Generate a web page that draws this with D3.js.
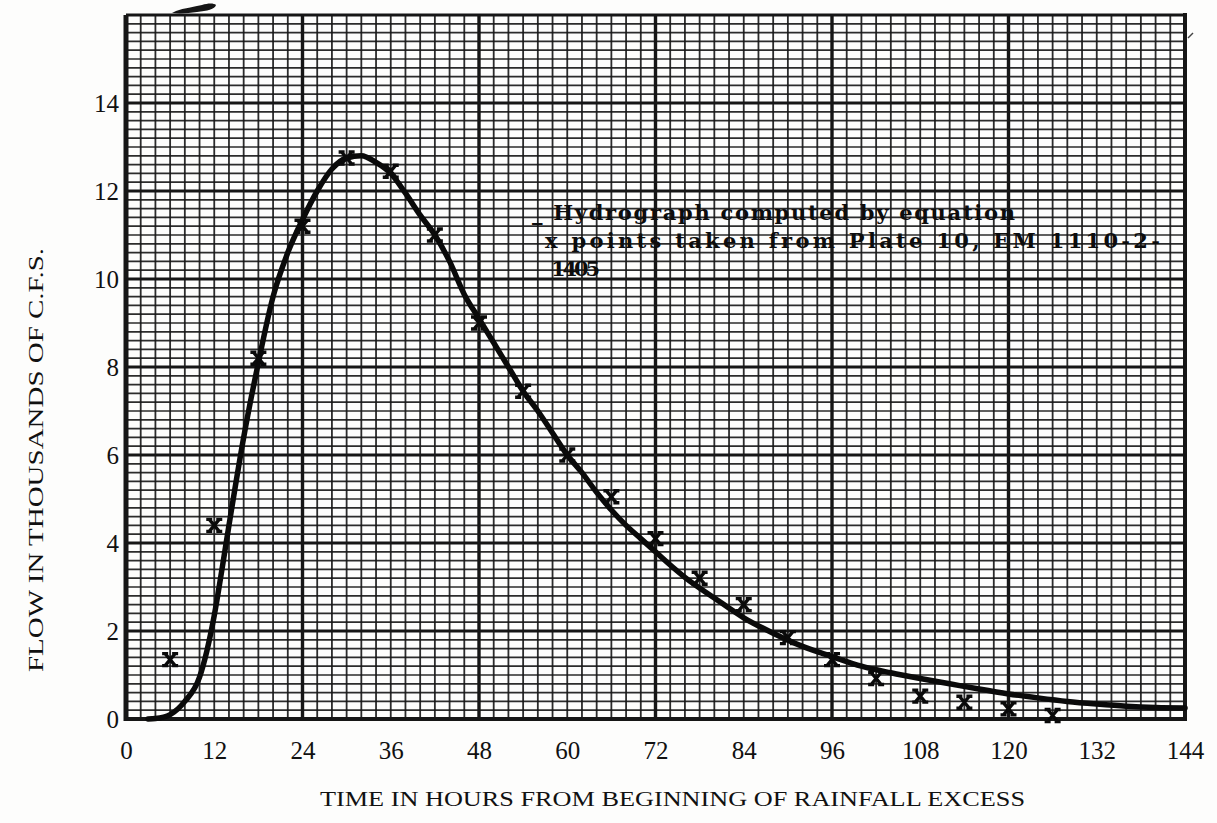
<!DOCTYPE html>
<html>
<head>
<meta charset="utf-8">
<script src="https://cdn.jsdelivr.net/npm/d3@7"></script>
<style>
  html, body { margin: 0; padding: 0; background: #fdfdfc; }
  svg { display: block; }
</style>
</head>
<body>
<svg id="chart" width="1217" height="823"></svg>
<script>
// ---- data ----
const curveHours = [3, 4, 6, 8, 10, 11, 12, 13, 14, 16, 18, 20, 22, 24, 26, 28, 30, 32, 34, 36, 38, 40, 42, 44, 46, 48, 50, 52, 54, 56, 58, 60, 62, 64, 66, 68, 70, 72, 74, 76, 80, 84, 88, 92, 96, 100, 104, 108, 112, 116, 120, 124, 128, 132, 136, 140, 144];
const curveFlow  = [0, 0.01, 0.1, 0.4, 0.95, 1.55, 2.35, 3.35, 4.4, 6.4, 8.1, 9.6, 10.6, 11.35, 12.0, 12.5, 12.75, 12.8, 12.65, 12.4, 11.95, 11.45, 11.0, 10.4, 9.65, 9.1, 8.55, 8.0, 7.45, 7.0, 6.5, 6.0, 5.6, 5.15, 4.75, 4.4, 4.1, 3.8, 3.5, 3.22, 2.75, 2.3, 1.95, 1.65, 1.42, 1.2, 1.05, 0.92, 0.8, 0.68, 0.57, 0.48, 0.4, 0.34, 0.29, 0.26, 0.25];
const pointHours = [6, 12, 18, 24, 30, 36, 42, 48, 54, 60, 66, 72, 78, 84, 90, 96, 102, 108, 114, 120, 126];
const pointFlow  = [1.35, 4.4, 8.2, 11.2, 12.75, 12.45, 11.0, 9.0, 7.45, 6.0, 5.05, 4.1, 3.2, 2.6, 1.85, 1.35, 0.92, 0.52, 0.38, 0.23, 0.08];
const xTickValues = [0, 12, 24, 36, 48, 60, 72, 84, 96, 108, 120, 132, 144];
const yTickValues = [0, 2, 4, 6, 8, 10, 12, 14];
const legendLines = ["_ Hydrograph computed by equation", "x points taken from Plate 10, EM 1110-2-", "1405"];
const xTitle = "TIME IN HOURS FROM BEGINNING OF RAINFALL EXCESS";
const yTitle = "FLOW IN THOUSANDS OF C.F.S.";

// ---- layout ----
const L = 126, R = 1185, T = 15, B = 719;
const svg = d3.select("#chart");
const x = d3.scaleLinear().domain([0, 144]).range([L, R]);
const y = d3.scaleLinear().domain([0, 16]).range([B, T]);
const ink = "#161616";

// graph-paper grid
const grid = svg.append("g");
d3.range(0, 145, 2).forEach(h => {
  const major = h % 24 === 0;
  grid.append("line")
    .attr("x1", x(h)).attr("x2", x(h)).attr("y1", y(16)).attr("y2", y(0))
    .attr("stroke", ink).attr("stroke-width", major ? 3.4 : 1.8).attr("opacity", major ? 1 : 0.9);
});
d3.range(0, 80.5, 1).forEach(i => {
  const v = i * 0.2;
  const major = i % 10 === 0;
  grid.append("line")
    .attr("x1", x(0)).attr("x2", x(144)).attr("y1", y(v)).attr("y2", y(v))
    .attr("stroke", ink).attr("stroke-width", major ? 3 : 1.7).attr("opacity", major ? 1 : 0.9);
});
// heavier frame sides
svg.append("line").attr("x1", x(0)).attr("x2", x(0)).attr("y1", y(16)).attr("y2", y(0) + 2)
  .attr("stroke", ink).attr("stroke-width", 5);
svg.append("line").attr("x1", x(144)).attr("x2", x(144)).attr("y1", y(16) - 2).attr("y2", y(0) + 2)
  .attr("stroke", ink).attr("stroke-width", 4);
svg.append("line").attr("x1", x(0)).attr("x2", x(144)).attr("y1", y(0)).attr("y2", y(0))
  .attr("stroke", ink).attr("stroke-width", 4);

// ink smudge at top of the sheet and a stray mark at top right
svg.append("path")
  .attr("d", "M172,13 L176,11 C184,8 194,7 202,5 C208,3 214,3 216,5 C215,9 207,11 197,12 C189,13 181,14 172,13 Z")
  .attr("fill", ink);
svg.append("line").attr("x1", 1188).attr("y1", 38).attr("x2", 1193).attr("y2", 33)
  .attr("stroke", "#444").attr("stroke-width", 1.5);

// axes (tick labels)
const xAxis = d3.axisBottom(x).tickValues(xTickValues).tickSize(0).tickPadding(0).tickFormat(d3.format("d"));
const gx = svg.append("g").attr("transform", `translate(0,${B})`).call(xAxis);
gx.select(".domain").remove();
gx.selectAll("text").attr("dy", null).attr("y", 40)
  .attr("font-family", "Liberation Serif, serif").attr("font-size", 25).attr("fill", "#111");

const yAxis = d3.axisLeft(y).tickValues(yTickValues).tickSize(0).tickPadding(0).tickFormat(d3.format("d"));
const gy = svg.append("g").attr("transform", `translate(${L - 7},0)`).call(yAxis);
gy.select(".domain").remove();
gy.selectAll("text").attr("dy", "0.35em").attr("x", 0)
  .attr("font-family", "Liberation Serif, serif").attr("font-size", 25).attr("fill", "#111");

// axis titles
svg.append("text").attr("x", 320).attr("y", 806)
  .attr("textLength", 705).attr("lengthAdjust", "spacingAndGlyphs")
  .attr("font-family", "Liberation Serif, serif").attr("font-size", 22).attr("fill", "#111")
  .text(xTitle);
svg.append("text").attr("transform", "translate(43,672) rotate(-90)")
  .attr("textLength", 424).attr("lengthAdjust", "spacingAndGlyphs")
  .attr("font-family", "Liberation Serif, serif").attr("font-size", 22).attr("fill", "#111")
  .text(yTitle);

// computed hydrograph
const data = curveHours.map((h, i) => [h, curveFlow[i]]);
svg.append("path").datum(data)
  .attr("fill", "none").attr("stroke", "#0a0a0a").attr("stroke-width", 5.5)
  .attr("stroke-linejoin", "round").attr("stroke-linecap", "round")
  .attr("d", d3.line().x(d => x(d[0])).y(d => y(d[1])).curve(d3.curveMonotoneX));

// observed points: typewriter "x"
const marker = "M-5,-6L5,6M5,-6L-5,6M-8,-6H-2M2,-6H8M-8,6H-2M2,6H8";
svg.append("g").selectAll("path").data(pointHours.map((h, i) => [h, pointFlow[i]])).join("path")
  .attr("transform", d => `translate(${x(d[0])},${y(d[1])})`)
  .attr("d", marker).attr("fill", "none").attr("stroke", "#0a0a0a").attr("stroke-width", 3.4);

// legend text (typewritten)
const legendPos = [[532, 220, 483], [545, 248, 615], [551, 276, 49]];
svg.append("g").selectAll("text").data(legendLines).join("text")
  .attr("x", (d, i) => legendPos[i][0]).attr("y", (d, i) => legendPos[i][1])
  .attr("textLength", (d, i) => legendPos[i][2]).attr("lengthAdjust", "spacing")
  .attr("font-family", "DejaVu Serif, serif").attr("font-weight", "bold")
  .attr("font-size", 21).attr("fill", "#0d0d0d")
  .text(d => d);
</script>
</body>
</html>
